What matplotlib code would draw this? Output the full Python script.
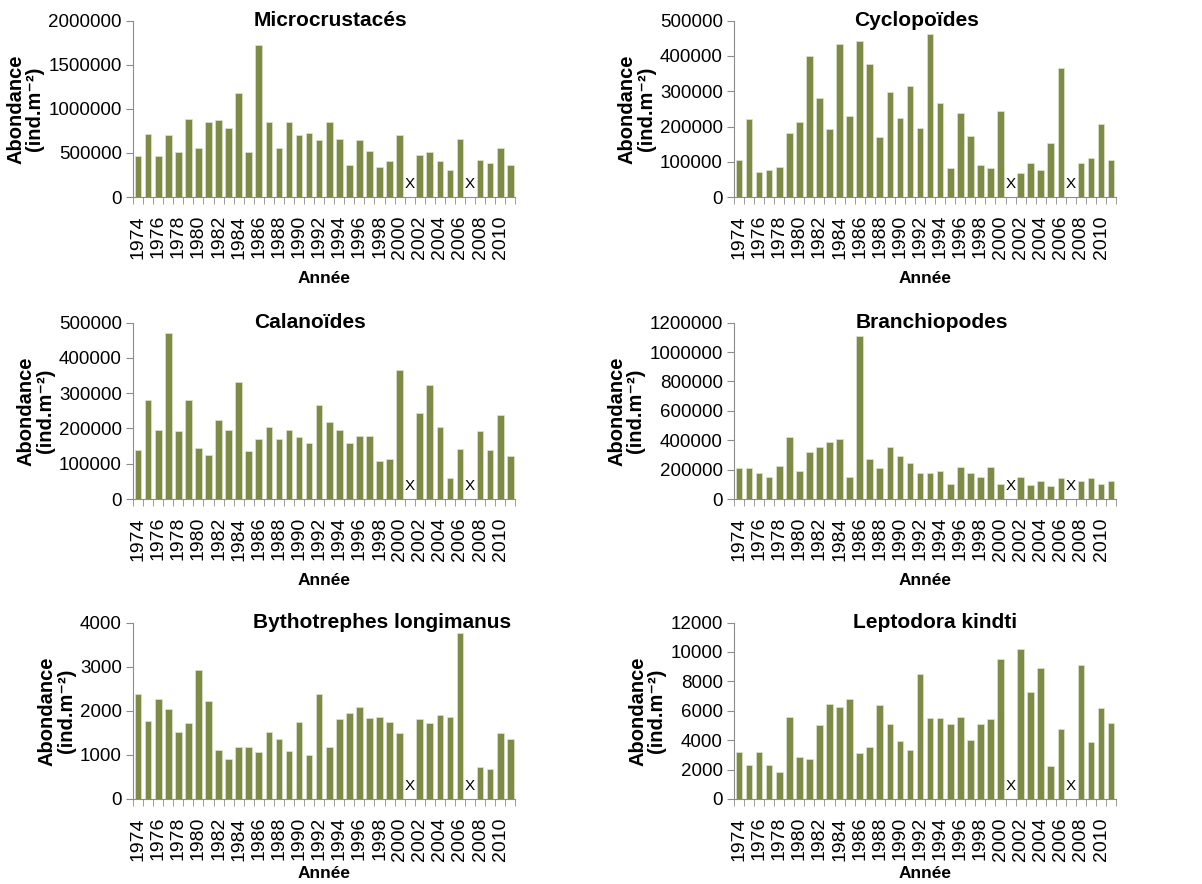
import numpy as np
import matplotlib
matplotlib.use("Agg")
import matplotlib.pyplot as plt
from matplotlib.ticker import FuncFormatter, MultipleLocator

plt.rcParams['font.family'] = ['Liberation Sans', 'DejaVu Sans']

# années 1974-2011, None = pas de donnée (x)
annees = list(range(1974, 2012))

microcrustaces = [460000, 710000, 460000, 700000, 515000, 883000, 555000, 853000, 872000, 781000,
                  1181000, 513000, 1721000, 853000, 555000, 853000, 698000, 725000, 642000, 853000,
                  657000, 358000, 642000, 525000, 343000, 411000, 709000, None, 472000, 509000,
                  411000, 302000, 657000, None, 423000, 385000, 555000, 358000]

cyclopoides = [106000, 220000, 71000, 77000, 85000, 181000, 213000, 401000, 281000, 192000,
               434000, 231000, 443000, 376000, 171000, 299000, 225000, 316000, 195000, 461000,
               266000, 81000, 238000, 174000, 90000, 82000, 245000, None, 67000, 96000,
               78000, 153000, 366000, None, 96000, 110000, 206000, 106000]

calanoides = [139000, 281000, 196000, 470000, 192000, 281000, 146000, 125000, 224000, 196000,
              331000, 136000, 171000, 203000, 171000, 196000, 175000, 160000, 267000, 217000,
              196000, 160000, 178000, 178000, 108000, 114000, 366000, None, 245000, 324000,
              203000, 61000, 142000, None, 192000, 139000, 239000, 122000]

branchiopodes = [208000, 208000, 174000, 149000, 227000, 424000, 190000, 321000, 357000, 389000,
                 410000, 149000, 1106000, 270000, 208000, 357000, 295000, 245000, 174000, 174000,
                 190000, 105000, 218000, 174000, 149000, 218000, 105000, None, 149000, 96000,
                 121000, 87000, 140000, None, 121000, 140000, 105000, 121000]

bythotrephes = [2371, 1773, 2258, 2030, 1515, 1720, 2917, 2227, 1121, 917,
                1182, 1182, 1068, 1515, 1371, 1091, 1742, 1008, 2371, 1182,
                1803, 1947, 2091, 1833, 1864, 1750, 1492, None, 1803, 1720,
                1894, 1864, 3773, None, 720, 689, 1492, 1371]

leptodora = [3205, 2341, 3205, 2341, 1818, 5591, 2841, 2750, 5000, 6455,
             6273, 6773, 3114, 3545, 6364, 5068, 3955, 3364, 8477, 5500,
             5500, 5068, 5591, 4045, 5068, 5409, 9500, None, 10205, 7295,
             8909, 2250, 4727, None, 9091, 3864, 6182, 5159]

titres = ['Microcrustacés', 'Cyclopoïdes', 'Calanoïdes', 'Branchiopodes',
          'Bythotrephes longimanus', 'Leptodora kindti']
series = [microcrustaces, cyclopoides, calanoides, branchiopodes, bythotrephes, leptodora]
ymax = [2000000, 500000, 500000, 1200000, 4000, 12000]
ystep = [500000, 100000, 100000, 200000, 1000, 2000]

couleur = '#7d8b47'
gris = '#8c8c8c'

fig = plt.figure(figsize=(12.02, 8.84), dpi=100)

# positions des axes (en fraction de la figure)
gauche = [0.1107, 0.6106]
bas = [0.7771, 0.4355, 0.0962]
larg = 0.318
haut = 0.1995
titre_x = [0.517, 0.479, 0.462, 0.517, 0.99, 0.527]
pad_annee = [9, 9, 4]

x = np.arange(len(annees))

for i in range(6):
    ax = fig.add_axes([gauche[i % 2], bas[i // 2], larg, haut])
    vals = series[i]
    xs = [xi for xi, v in zip(x, vals) if v is not None]
    hs = [v for v in vals if v is not None]
    ax.bar(xs, hs, width=0.66, color=couleur, edgecolor='#dfe3cf', linewidth=0.5, zorder=2)

    # années manquantes
    for xi, v in zip(x, vals):
        if v is None:
            ax.text(xi, 0.035, 'X', transform=ax.get_xaxis_transform(),
                    ha='center', va='bottom', fontsize=11)

    ax.set_xlim(-0.5, len(annees) - 0.5)
    ax.set_ylim(0, ymax[i])
    ax.yaxis.set_major_locator(MultipleLocator(ystep[i]))
    ax.yaxis.set_major_formatter(FuncFormatter(lambda v, p: '%d' % v))

    ax.set_xticks(x[::2])
    ax.set_xticklabels([str(a) for a in annees[::2]], rotation=90, fontsize=14)
    ax.set_xticks(np.arange(-0.5, len(annees)), minor=True)
    ax.tick_params(axis='x', which='major', length=0, pad=13)
    ax.tick_params(axis='x', which='minor', length=5, color=gris, direction='out')
    ax.tick_params(axis='y', length=5, color=gris, labelsize=13.5, pad=3)

    for s in ['top', 'right']:
        ax.spines[s].set_visible(False)
    ax.spines['left'].set_color(gris)
    ax.spines['bottom'].set_color(gris)

    ha = 'right' if i == 4 else 'center'
    ax.text(titre_x[i], 1.0, titres[i], transform=ax.transAxes, ha=ha, va='center',
            fontsize=15, fontweight='bold')

    ax.set_ylabel('Abondance\n(ind.m⁻²)', fontsize=14.5, fontweight='bold',
                  labelpad=3, linespacing=1.0)
    ax.set_xlabel('Année', fontsize=12.5, fontweight='bold', labelpad=pad_annee[i // 2])

fig.savefig('out.png', dpi=100)
